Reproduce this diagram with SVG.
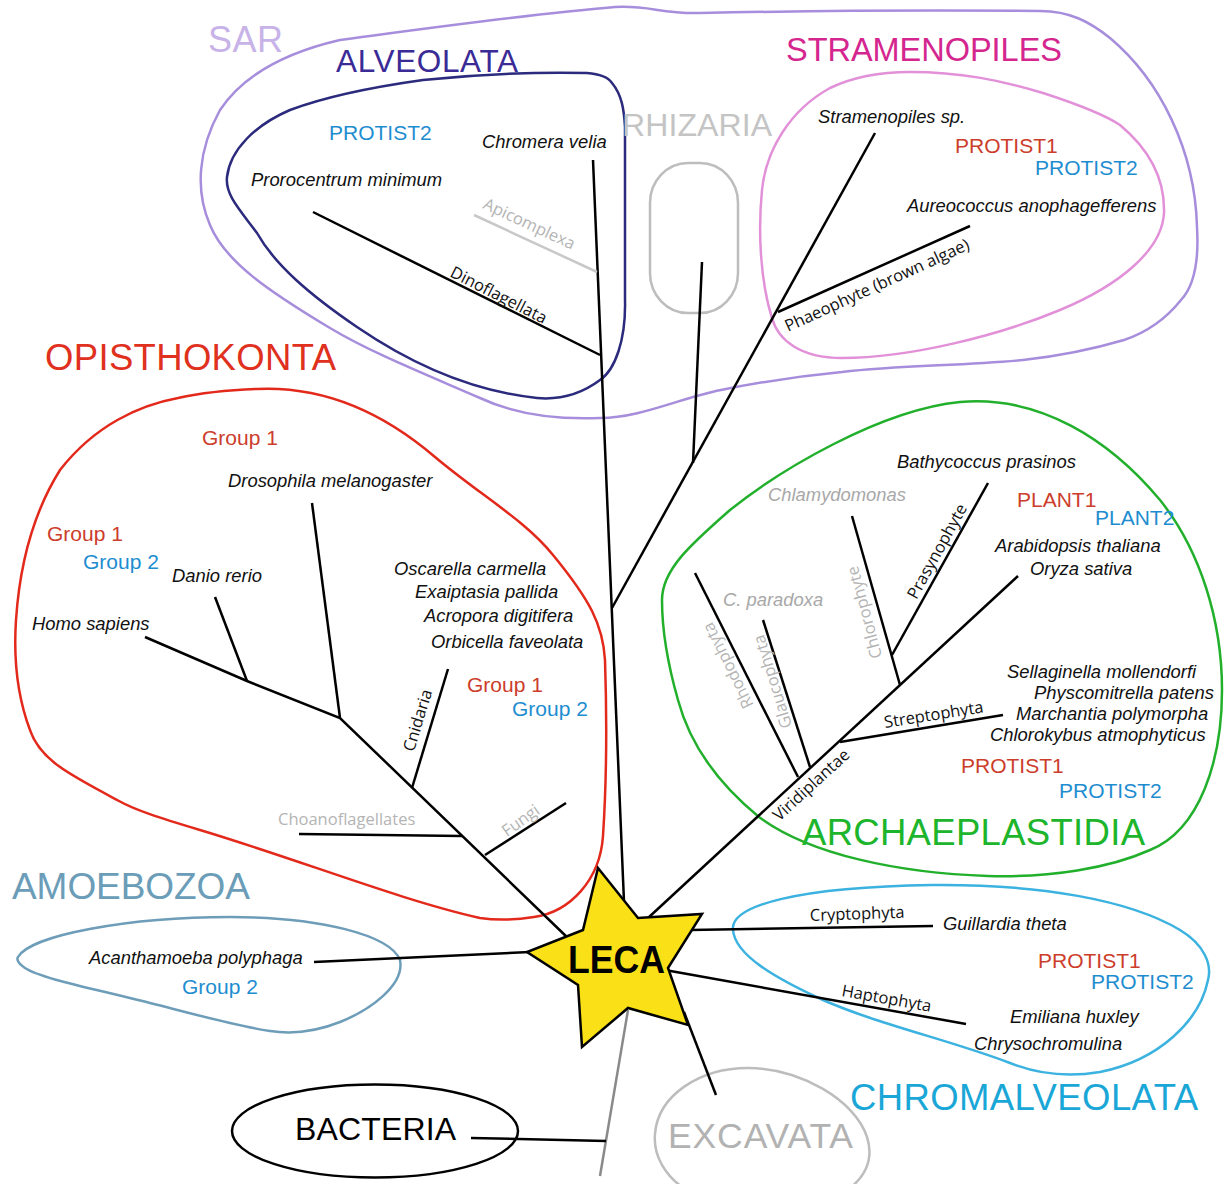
<svg xmlns="http://www.w3.org/2000/svg" width="1232" height="1184" viewBox="0 0 1232 1184">
<style>
  .br { stroke: #000; stroke-width: 2.5; fill: none; stroke-linecap: butt; }
  .gbr { stroke: #c8c8c8; stroke-width: 2.5; fill: none; }
  .ol { fill: none; stroke-width: 2.5; }
  .hd { font-family: "Liberation Sans", Arial, sans-serif; }
  .sp { font-family: "Liberation Sans", Arial, sans-serif; font-style: italic; font-size: 18.4px; fill: #111; }
  .cl { font-family: "Open Sans", "Noto Sans", sans-serif; font-size: 16.5px; fill: #111; }
  .gcl { font-family: "Open Sans", "Noto Sans", sans-serif; font-size: 16.5px; fill: #b4b4b4; }
  .gsp { font-family: "Liberation Sans", Arial, sans-serif; font-style: italic; font-size: 18.4px; fill: #a8a8a8; }
  .r { font-family: "Liberation Sans", Arial, sans-serif; font-size: 21px; fill: #cc3d2b; }
  .b { font-family: "Liberation Sans", Arial, sans-serif; font-size: 21px; fill: #1e8dd0; }
</style>

<g id="outlines">
  <path id="sar-outline" class="ol" stroke="#a78edc" d="M 600,418 C 550,420 510,412 480,398 C 420,372 370,352 330,328 C 270,292 225,262 210,225 C 195,190 198,150 220,110 C 240,80 275,55 340,40 C 430,28 530,14 615,7 C 650,5 660,14 700,13 C 800,11 950,10 1040,11 C 1070,11 1090,22 1110,38 C 1160,80 1195,150 1197,227 C 1199,260 1195,285 1181,300 C 1165,320 1145,333 1124,340 C 1090,350 1060,356 1023,360 C 960,366 900,365 842,372 C 800,376 760,382 721,390 C 680,398 640,418 600,418 Z"/>
  <path id="alveolata-outline" class="ol" stroke="#2b2a7c" d="M 587,73 C 600,74 608,77 612,83 C 622,95 624,110 625,127 L 625,300 C 626,340 615,370 600,380 C 580,395 560,400 537,398 C 480,392 420,370 357,327 C 310,295 275,265 257,233 C 240,210 225,195 227,177 C 230,150 255,125 290,110 C 330,95 380,86 423,80 C 480,74 540,72 587,73 Z"/>
  <rect id="rhizaria-outline" class="ol" stroke="#bdbdbd" x="650" y="163" width="88" height="150" rx="38" ry="40"/>
  <path id="stramenopiles-outline" class="ol" stroke="#e291d9" d="M 910,72 C 960,72 1000,80 1043,93 C 1080,105 1105,115 1120,125 C 1150,150 1165,180 1164,213 C 1162,250 1120,285 1060,310 C 1000,335 910,358 842,358 C 800,358 778,340 772,318 C 760,280 758,230 762,190 C 766,150 790,110 830,88 C 855,76 885,72 910,72 Z"/>
  <path id="opisthokonta-outline" class="ol" stroke="#e2291b" d="M 257,389 C 320,386 380,410 435,457 C 480,495 525,520 553,555 C 590,600 603,625 605,660 C 607,720 606,790 603,836 C 600,880 570,912 534,917 C 515,920 500,921 480,918 C 400,900 300,860 200,830 C 160,818 135,810 119,801 C 70,775 40,760 30,730 C 15,690 14,650 16,620 C 20,560 35,510 60,470 C 95,425 140,405 178,398 C 205,392 230,390 257,389 Z"/>
  <path id="amoebozoa-outline" class="ol" stroke="#6d9db8" d="M 18,957 C 30,935 130,917 230,917 C 320,917 390,935 400,960 C 405,985 370,1010 340,1022 C 315,1032 290,1034 270,1031 C 230,1025 180,1010 138,1000 C 90,988 40,978 25,968 C 18,963 16,960 18,957 Z"/>
  <path id="archaeplastida-outline" class="ol" stroke="#22b02c" d="M 662,600 C 662,570 690,545 730,510 C 780,470 880,410 960,402 C 1040,395 1110,440 1160,500 C 1200,550 1222,620 1222,690 C 1222,760 1200,830 1150,850 C 1110,868 1050,878 988,876 C 900,873 810,855 759,817 C 720,785 690,745 678,700 C 668,665 662,630 662,600 Z"/>
  <path id="chromalveolata-outline" class="ol" stroke="#3bb2df" d="M 733,930 C 730,905 800,887 932,885 C 1040,884 1130,900 1180,930 C 1205,945 1212,965 1208,980 C 1200,1020 1160,1060 1100,1072 C 1070,1077 1040,1075 1010,1063 C 950,1040 880,1025 823,1000 C 775,978 735,955 733,930 Z"/>
  <path id="excavata-outline" class="ol" stroke="#bdbdbd" d="M 655,1134 C 658,1095 700,1068 748,1068 C 800,1068 855,1100 867,1137 C 875,1162 862,1180 845,1192 L 690,1192 C 665,1178 653,1155 655,1134 Z"/>
  <ellipse id="bacteria-outline" class="ol" stroke="#000" cx="375" cy="1131" rx="143" ry="46.5"/>
</g>

<g id="connectors">
  <line class="br" x1="593" y1="160" x2="624" y2="902"/>
  <line class="br" x1="313" y1="212" x2="600" y2="355"/>
  <line class="gbr" x1="474" y1="215" x2="597" y2="272"/>
  <line class="br" x1="702" y1="262" x2="693" y2="463"/>
  <line class="br" x1="875" y1="133" x2="612" y2="608"/>
  <line class="br" x1="778" y1="312" x2="970" y2="226"/>
  <polyline class="br" points="145,637 247,681 340,718 570,940"/>
  <line class="br" x1="215" y1="597" x2="247" y2="681"/>
  <line class="br" x1="312" y1="503" x2="340" y2="718"/>
  <line class="br" x1="448" y1="669" x2="412" y2="788"/>
  <line class="br" x1="299" y1="834" x2="462" y2="836"/>
  <line class="br" x1="566" y1="803" x2="485" y2="855"/>
  <line class="br" x1="314" y1="962" x2="530" y2="952"/>
  <line class="br" x1="648" y1="918" x2="1018" y2="576"/>
  <line class="br" x1="695" y1="573" x2="798" y2="777"/>
  <line class="br" x1="763" y1="620" x2="810" y2="767"/>
  <line class="br" x1="840" y1="742" x2="1003" y2="715"/>
  <line class="br" x1="852" y1="516" x2="900" y2="685"/>
  <line class="br" x1="988" y1="483" x2="892" y2="655"/>
  <line class="br" x1="690" y1="930" x2="933" y2="926"/>
  <line class="br" x1="665" y1="970" x2="966" y2="1024"/>
  <line class="br" x1="684" y1="1012" x2="716" y2="1095"/>
  <line stroke="#8a8a8a" stroke-width="2.5" x1="628" y1="1010" x2="600" y2="1176"/>
  <line class="br" x1="471" y1="1138" x2="606" y2="1141"/>
</g>

<g id="sar">
  <text class="hd" x="208" y="52" font-size="36" textLength="75" fill="#c8b3e8">SAR</text>
</g>

<g id="alveolata">
  <text class="hd" x="336" y="72" font-size="31.5" textLength="182" fill="#3a2b96">ALVEOLATA</text>
  <text class="b" x="329" y="140">PROTIST2</text>
  <text class="sp" x="482" y="148">Chromera velia</text>
  <text class="sp" x="251" y="186">Prorocentrum minimum</text>
  <text class="gcl" x="482" y="208" transform="rotate(25 482 208)">Apicomplexa</text>
  <text class="cl" x="449" y="276" transform="rotate(27 449 276)">Dinoflagellata</text>
</g>

<g id="rhizaria">
  <text class="hd" x="622" y="136" font-size="32" textLength="150" fill="#c4c4c4">RHIZARIA</text>
</g>

<g id="stramenopiles">
  <text class="hd" x="786" y="61" font-size="32.5" textLength="276" fill="#d4268e">STRAMENOPILES</text>
  <text class="sp" x="818" y="123">Stramenopiles sp.</text>
  <text class="r" x="955" y="153">PROTIST1</text>
  <text class="b" x="1035" y="175">PROTIST2</text>
  <text class="sp" x="907" y="212">Aureococcus anophagefferens</text>
  <text class="cl" x="788" y="332" transform="rotate(-24.5 788 332)">Phaeophyte (brown algae)</text>
</g>

<g id="opisthokonta">
  <text class="hd" x="45" y="370" font-size="36.5" textLength="291" fill="#e0301e">OPISTHOKONTA</text>
  <text class="r" x="202" y="445">Group 1</text>
  <text class="sp" x="228" y="487">Drosophila melanogaster</text>
  <text class="r" x="47" y="541">Group 1</text>
  <text class="b" x="83" y="569">Group 2</text>
  <text class="sp" x="172" y="582">Danio rerio</text>
  <text class="sp" x="32" y="630">Homo sapiens</text>
  <text class="sp" x="394" y="575">Oscarella carmella</text>
  <text class="sp" x="415" y="598">Exaiptasia pallida</text>
  <text class="sp" x="424" y="622">Acropora digitifera</text>
  <text class="sp" x="431" y="648">Orbicella faveolata</text>
  <text class="r" x="467" y="692">Group 1</text>
  <text class="b" x="512" y="716">Group 2</text>
  <text class="cl" x="423" y="722" text-anchor="middle" transform="rotate(-73 423 722)">Cnidaria</text>
  <text class="gcl" x="278" y="825">Choanoflagellates</text>
  <text class="gcl" x="524" y="825" text-anchor="middle" transform="rotate(-36 524 825)">Fungi</text>
</g>

<g id="amoebozoa">
  <text class="hd" x="12" y="899" font-size="37" textLength="238" fill="#6b9db8">AMOEBOZOA</text>
  <text class="sp" x="89" y="964">Acanthamoeba polyphaga</text>
  <text class="b" x="182" y="994">Group 2</text>
</g>

<g id="archaeplastida">
  <text class="hd" x="802" y="845" font-size="36.5" textLength="343" fill="#1db52b">ARCHAEPLASTIDIA</text>
  <text class="sp" x="897" y="468">Bathycoccus prasinos</text>
  <text class="gsp" x="768" y="501">Chlamydomonas</text>
  <text class="r" x="1017" y="507">PLANT1</text>
  <text class="b" x="1095" y="525">PLANT2</text>
  <text class="sp" x="995" y="552">Arabidopsis thaliana</text>
  <text class="sp" x="1030" y="575">Oryza sativa</text>
  <text class="gsp" x="723" y="606">C. paradoxa</text>
  <text class="gcl" x="733" y="663" text-anchor="middle" transform="rotate(-116.5 733 663)">Rhodophyta</text>
  <text class="gcl" x="778" y="680" text-anchor="middle" transform="rotate(-107 778 680)">Glaucophyta</text>
  <text class="gcl" x="870" y="611" text-anchor="middle" transform="rotate(-105 870 611)">Chlorophyte</text>
  <text class="cl" x="942" y="554" text-anchor="middle" transform="rotate(-61 942 554)">Prasynophyte</text>
  <text class="cl" x="885" y="728" transform="rotate(-9 885 728)">Streptophyta</text>
  <text class="cl" x="815" y="789" text-anchor="middle" transform="rotate(-42.5 815 789)">Viridiplantae</text>
  <text class="sp" x="1007" y="678">Sellaginella mollendorfi</text>
  <text class="sp" x="1034" y="699">Physcomitrella patens</text>
  <text class="sp" x="1016" y="720">Marchantia polymorpha</text>
  <text class="sp" x="990" y="741">Chlorokybus atmophyticus</text>
  <text class="r" x="961" y="773">PROTIST1</text>
  <text class="b" x="1059" y="798">PROTIST2</text>
</g>

<g id="chromalveolata">
  <text class="hd" x="850" y="1110" font-size="36.5" textLength="348" fill="#1aa7d7">CHROMALVEOLATA</text>
  <text class="cl" x="810" y="921" transform="rotate(-2 810 921)">Cryptophyta</text>
  <text class="sp" x="943" y="930">Guillardia theta</text>
  <text class="r" x="1038" y="968">PROTIST1</text>
  <text class="b" x="1091" y="989">PROTIST2</text>
  <text class="cl" x="841" y="996" transform="rotate(10 841 996)">Haptophyta</text>
  <text class="sp" x="1010" y="1023">Emiliana huxley</text>
  <text class="sp" x="974" y="1050">Chrysochromulina</text>
</g>

<g id="excavata">
  <text class="hd" x="668" y="1148" font-size="35.5" textLength="185" fill="#b2b2b2">EXCAVATA</text>
</g>

<g id="bacteria">
  <text class="hd" x="295" y="1140" font-size="32" textLength="161" fill="#000">BACTERIA</text>
</g>

<g id="leca">
  <polygon points="598,868 638,918 702,914 668,968 688,1025 628,1008 582,1047 578,985 527,952 583,930" fill="#fae016" stroke="#000" stroke-width="2.5" stroke-linejoin="miter"/>
  <text x="568" y="973" font-family="Liberation Sans, Arial, sans-serif" font-weight="bold" font-size="39" textLength="97" lengthAdjust="spacingAndGlyphs" fill="#000">LECA</text>
</g>
</svg>
